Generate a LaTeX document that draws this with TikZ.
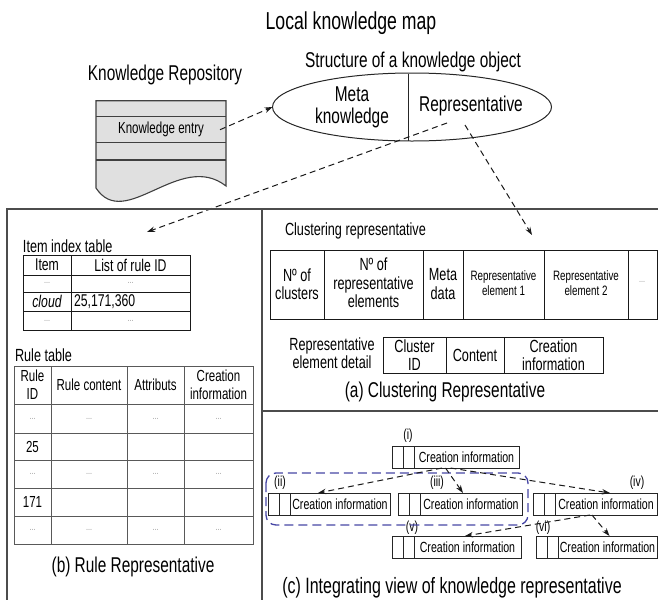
\documentclass[tikz,border=0pt]{standalone}
\usepackage{fontspec}
\setmainfont[FakeStretch=0.72]{Liberation Sans}
\usetikzlibrary{arrows.meta,shapes.geometric,calc}

% one "creation information" record: two narrow key cells and a text cell
\newcommand\cinfobox[5]{%
  \node[cbox, minimum width=#3-#2, minimum height=#5-#4, anchor=north west] (#1) at (#2,#4) {};
  \draw[cline] ([xshift=11pt]#1.north west) -- ([xshift=11pt]#1.south west);
  \draw[cline] ([xshift=22pt]#1.north west) -- ([xshift=22pt]#1.south west);
  \node[fci] (#1txt) at ($([xshift=22pt]#1.west)!0.5!(#1.east)$) {Creation information};
}

\begin{document}
\begin{tikzpicture}[x=1pt,y=-1pt,
  every node/.style={inner sep=0pt, outer sep=0pt, align=center},
  ftitle/.style={font=\fontsize{24.5}{27}\selectfont},
  fcap/.style={font=\fontsize{21.4}{21.5}\selectfont},
  fbody/.style={font=\fontsize{17.6}{18.5}\selectfont},
  ftab/.style={font=\fontsize{17}{18}\selectfont},
  frule/.style={font=\fontsize{16}{18}\selectfont},
  fsmall/.style={font=\fontsize{13.6}{15}\selectfont},
  fci/.style={font=\fontsize{14.7}{16}\selectfont},
  flabel/.style={font=\fontsize{14.5}{15}\selectfont},
  dots/.style={text=black!40, font=\fontsize{10}{11}\selectfont},
  link/.style={draw=black!90, line width=1pt, dash pattern=on 6pt off 4pt,
    -{Stealth[length=8pt,width=5.5pt]}},
  panel/.style={draw=black!70, line width=1.8pt},
  grid/.style={draw=black!90, line width=0.9pt},
  rgrid/.style={draw=black!65, line width=0.9pt},
  cbox/.style={draw=black!85, line width=0.9pt, rectangle, inner sep=0pt},
  cline/.style={draw=black!85, line width=0.9pt},
  group/.style={draw={rgb,255:red,70;green,70;blue,165}, line width=1.3pt,
    dash pattern=on 9pt off 5pt, rounded corners=10pt},
]
\useasboundingbox (0,0) rectangle (658,600);

% ---------- headings ----------
\node[ftitle] (map) at (351,23) {Local knowledge map};
\node[fcap] (kotitle) at (413,62) {Structure of a knowledge object};
\node[fcap] (repotitle) at (165,75) {Knowledge Repository};

% ---------- knowledge repository (document shape) ----------
\fill[black!12] (96,100.7) -- (226,100.7) -- (226,186)
  .. controls (180,150) and (125,232) .. (96,188) -- cycle;
\draw[black!75, line width=1.1pt] (96,100.7) -- (226,100.7) -- (226,186)
  .. controls (180,150) and (125,232) .. (96,188) -- cycle;
\foreach \y in {116.7,142.7,160} \draw[black!75, line width=1.1pt] (96,\y) -- (226,\y);
\node[frule, minimum width=130pt, minimum height=26pt] (entry) at (161,129.7) {Knowledge entry};

% ---------- knowledge object ----------
\node[ellipse, draw=black!85, line width=1pt, minimum width=279pt, minimum height=68pt] (ko) at (412,107) {};
\draw[black!85, line width=1pt] (408,73.5) -- (408,140.5);
\node[fcap] (meta) at (352,107.5) {Meta\\knowledge};
\node[fcap] (rep) at (471,106) {Representative};

\coordinate (repL) at (447,123);
\coordinate (itemTip) at (147,232);
\coordinate (repR) at (465,125);
\coordinate (clusTip) at (532,235);
\draw[link] ([xshift=-6pt]entry.east) -- (ko.west);
\draw[link] (repL) -- (itemTip);
\draw[link] (repR) -- (clusTip);

% ---------- panel frame ----------
\draw[panel] (658,209) -- (7,209) -- (7,600);
\draw[panel] (262,209) -- (262,600);
\draw[panel] (262,411) -- (658,411);

% ---------- (b) rule representative ----------
\node[fbody, anchor=west] (itemlbl) at (23,246) {Item index table};
\draw[grid] (23,255) rectangle (190,330);
\foreach \y in {275,292,311} \draw[grid] (23,\y) -- (190,\y);
\draw[grid] (71,255) -- (71,330);
\node[ftab] (ih1) at (47,265) {Item};
\node[ftab] (ih2) at (130.5,265) {List of rule ID};
\node[dots] (id1) at (47,283) {...};
\node[dots] (id2) at (130.5,283) {...};
\node[ftab, font=\fontsize{17}{18}\selectfont\itshape] (icloud) at (47,301.5) {cloud};
\node[ftab, anchor=west] (iids) at (74,301.5) {25,171,360};
\node[dots] (id3) at (47,320.5) {...};
\node[dots] (id4) at (130.5,320.5) {...};

\node[fbody, anchor=west] (rulelbl) at (15,355) {Rule table};
\draw[rgrid] (14,366) rectangle (253,544);
\foreach \y in {404,433,460,488,516} \draw[rgrid] (14,\y) -- (253,\y);
\foreach \x in {51,127,184} \draw[rgrid] (\x,366) -- (\x,544);
\node[frule] (rh1) at (32.5,385) {Rule\\ID};
\node[frule] (rh2) at (89,385) {Rule content};
\node[frule] (rh3) at (155.5,385) {Attributs};
\node[frule] (rh4) at (218.5,385) {Creation\\information};
\foreach \y in {418.5,474,530}
  \foreach \x in {32.5,89,155.5,218.5}
    \node[dots] at (\x,\y) {...};
\node[frule] (r25) at (32.5,446.5) {25};
\node[frule] (r171) at (32.5,502) {171};
\node[fcap] (capb) at (133,567) {(b) Rule Representative};

% ---------- (a) clustering representative ----------
\node[fbody, anchor=west] (cluslbl) at (285,231) {Clustering representative};
\draw[grid] (270,250) rectangle (657,319);
\foreach \x in {324,423,463,544,628} \draw[grid] (\x,250) -- (\x,319);
\node[fbody] (c1) at (297,284) {Nº of\\clusters};
\node[fbody] (c2) at (373.5,283) {Nº of\\representative\\elements};
\node[fbody] (c3) at (443,284) {Meta\\data};
\node[fsmall] (c4) at (503.5,283) {Representative\\element 1};
\node[fsmall] (c5) at (586,283) {Representative\\element 2};
\node[dots] (c6) at (642,282) {...};

\node[fbody] (detlbl) at (332,353) {Representative\\element detail};
\draw[grid] (383,337) rectangle (603,373);
\foreach \x in {446,504} \draw[grid] (\x,337) -- (\x,373);
\node[fbody] (d1) at (414.5,355) {Cluster\\ID};
\node[fbody] (d2) at (475,355) {Content};
\node[fbody] (d3) at (553.5,355) {Creation\\information};
\node[fcap] (capa) at (445,392) {(a) Clustering Representative};

% ---------- (c) integrating view ----------
\cinfobox{ci}{392}{519}{446}{468}
\cinfobox{cii}{268}{390}{493}{515}
\cinfobox{ciii}{398}{522}{493}{515}
\cinfobox{civ}{533}{657}{493}{515}
\cinfobox{cv}{392}{521}{536}{558}
\cinfobox{cvi}{536}{657}{536}{558}

\node[flabel] (li) at (408,436) {(i)};
\node[flabel] (lii) at (280,483) {(ii)};
\node[flabel] (liii) at (437,483) {(iii)};
\node[flabel] (liv) at (637,483) {(iv)};
\node[flabel] (lv) at (412,528) {(v)};
\node[flabel] (lvi) at (543,528) {(vi)};

\draw[group] (266,473) rectangle (528,525);

\draw[link] ([xshift=-13.5pt]ci.south) -- ([xshift=-11pt]cii.north);
\draw[link] ([xshift=-10pt]ci.south) -- ([xshift=3pt]ciii.north);
\draw[link] ([xshift=-5pt]ci.south) -- ([xshift=15pt]civ.north);
\draw[link] ([xshift=-5pt]civ.south) -- ([xshift=8.5pt]cv.north);
\draw[link] ([xshift=-3pt]civ.south) -- ([xshift=13pt]cvi.north);

\node[fcap, font=\fontsize{22.2}{23}\selectfont] (capc) at (452,588) {(c) Integrating view of knowledge representative};
\end{tikzpicture}
\end{document}
